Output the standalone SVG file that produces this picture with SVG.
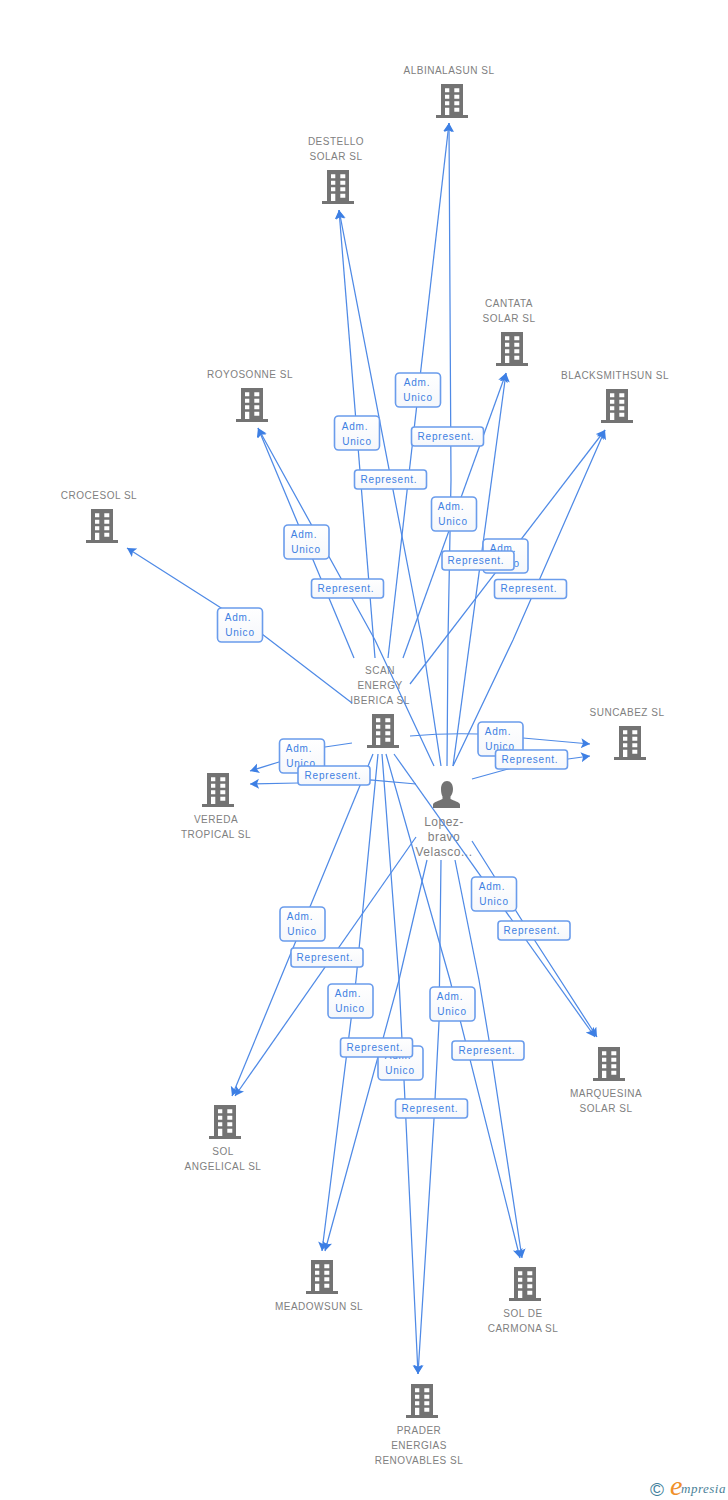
<svg xmlns="http://www.w3.org/2000/svg" width="728" height="1500" viewBox="0 0 728 1500">
<style>
.n{font-family:"Liberation Sans",Arial,sans-serif;font-size:10px;letter-spacing:.5px;fill:#808080;text-anchor:middle}
.p{font-size:12px}
.c{fill:none;stroke:#4f8ae6;stroke-width:1.25;marker-end:url(#a)}
.b{fill:url(#g);stroke:#6a9cec;stroke-width:1.6}
.t{font-family:"Liberation Sans",Arial,sans-serif;font-size:10px;letter-spacing:.8px;fill:#4080e2;text-anchor:middle}
</style>
<defs>
<linearGradient id="g" x1="0" y1="0" x2="0" y2="1"><stop offset="0" stop-color="#ffffff"/><stop offset="1" stop-color="#f5f7fb"/></linearGradient>
<marker id="a" markerUnits="userSpaceOnUse" markerWidth="12" markerHeight="12" refX="9" refY="5" orient="auto"><path d="M0 0L9 5L0 10L2 5Z" fill="#3d7fe4"/></marker>
<g id="bld">
<path fill="#737373" fill-rule="evenodd" d="M-11-17H11V14H16V17H-16V14H-11ZM-7-12.700V-8.700H-2.700V-12.700ZM2.300-12.700V-8.700H7.300V-12.700ZM-7-6.300V-2.300H-2.700V-6.300ZM2.300-6.300V-2.300H7.300V-6.300ZM-7 .3V4.300H-2.700V.3ZM2.300 .3V4.300H7.300V.3ZM-7 6.700V14H-2.700V6.700ZM2.300 6.700V10.700H7.300V6.700Z"/>
</g>
</defs>
<rect width="728" height="1500" fill="#ffffff"/>
<g id="node-albinalasun"><use href="#bld" x="452" y="101"/><text class="n" x="449" y="74">ALBINALASUN SL</text></g>
<g id="node-destello"><use href="#bld" x="338" y="187"/><text class="n" x="336" y="145">DESTELLO</text><text class="n" x="336" y="160">SOLAR SL</text></g>
<g id="node-cantata"><use href="#bld" x="512" y="349"/><text class="n" x="509" y="307">CANTATA</text><text class="n" x="509" y="322">SOLAR SL</text></g>
<g id="node-royosonne"><use href="#bld" x="252" y="405"/><text class="n" x="250" y="378">ROYOSONNE SL</text></g>
<g id="node-blacksmithsun"><use href="#bld" x="617" y="406"/><text class="n" x="615" y="379">BLACKSMITHSUN SL</text></g>
<g id="node-crocesol"><use href="#bld" x="102" y="526"/><text class="n" x="99" y="499">CROCESOL SL</text></g>
<g id="node-suncabez"><use href="#bld" x="630" y="743"/><text class="n" x="627" y="716">SUNCABEZ SL</text></g>
<g id="node-scan"><use href="#bld" x="383" y="731"/><text class="n" x="380" y="674">SCAN</text><text class="n" x="380" y="689">ENERGY</text><text class="n" x="380" y="704">IBERICA SL</text></g>
<g id="node-vereda"><use href="#bld" x="218" y="790"/><text class="n" x="216" y="823">VEREDA</text><text class="n" x="216" y="838">TROPICAL SL</text></g>
<g id="node-person"><path fill="#737373" d="M441 789c0-5 2.500-8 6-8s6 3 6 8c0 3-1 5.500-2.500 7.500v2.500c3 1.500 9 3 9.500 5.500v3.500H433v-3.500c.5-2.500 6.500-4 9.500-5.500v-2.500C441.500 794.500 441 792 441 789Z"/><text class="n p" x="444" y="826">Lopez-</text><text class="n p" x="444" y="841">bravo</text><text class="n p" x="444" y="856">Velasco...</text></g>
<g id="node-marquesina"><use href="#bld" x="609" y="1064"/><text class="n" x="606" y="1097">MARQUESINA</text><text class="n" x="606" y="1112">SOLAR SL</text></g>
<g id="node-sol-angelical"><use href="#bld" x="225" y="1122"/><text class="n" x="223" y="1155">SOL</text><text class="n" x="223" y="1170">ANGELICAL SL</text></g>
<g id="node-meadowsun"><use href="#bld" x="322" y="1277"/><text class="n" x="319" y="1310">MEADOWSUN SL</text></g>
<g id="node-sol-carmona"><use href="#bld" x="525" y="1284"/><text class="n" x="523" y="1317">SOL DE</text><text class="n" x="523" y="1332">CARMONA SL</text></g>
<g id="node-prader"><use href="#bld" x="422" y="1401"/><text class="n" x="419" y="1434">PRADER</text><text class="n" x="419" y="1449">ENERGIAS</text><text class="n" x="419" y="1464">RENOVABLES SL</text></g>
<g id="connectors">
<path class="c" d="M388 658L449 123"/>
<path class="c" d="M375 658L339 210"/>
<path class="c" d="M354 658L258 428"/>
<path class="c" d="M403 658L506 373"/>
<path class="c" d="M410 684L605 430"/>
<path class="c" d="M352 703L262 634L240 620L127 548"/>
<path class="c" d="M410 736Q445 733 478 734L523 738L590 744"/>
<path class="c" d="M352 743L325 747L279 762L250 771"/>
<path class="c" d="M373 754L232 1096"/>
<path class="c" d="M378 754L356 980L322 1251"/>
<path class="c" d="M382 754L399 980L404 1080L418 1374"/>
<path class="c" d="M386 754L450 980L520 1258"/>
<path class="c" d="M394 754L595 1037"/>
<path class="c" d="M447 766L448 640L451 480L449 123"/>
<path class="c" d="M441 766L422 640L339 210"/>
<path class="c" d="M434 766L375 640L258 428"/>
<path class="c" d="M453 766L506 373"/>
<path class="c" d="M453 766L513 640L605 430"/>
<path class="c" d="M472 779L508 769L568 759L590 756"/>
<path class="c" d="M416 784L370 780L298 783L250 784"/>
<path class="c" d="M416 837L235 1096"/>
<path class="c" d="M427 860L399 980L325 1251"/>
<path class="c" d="M441 860L439 1022L434 1119L418 1374"/>
<path class="c" d="M455 860L479 980L489 1040L522 1258"/>
<path class="c" d="M472 841L528 930L597 1037"/>
</g>
<g id="labels">
<g id="adm-1"><rect class="b" x="395.500" y="373" width="45" height="34" rx="4"/><text class="t" x="417" y="386">Adm.</text><text class="t" x="418" y="401">Unico</text></g>
<g id="adm-2"><rect class="b" x="334.500" y="416" width="45" height="34" rx="4"/><text class="t" x="355" y="430">Adm.</text><text class="t" x="357" y="445">Unico</text></g>
<g id="adm-3"><rect class="b" x="284" y="525" width="45" height="34" rx="4"/><text class="t" x="304" y="538">Adm.</text><text class="t" x="306" y="553">Unico</text></g>
<g id="adm-4"><rect class="b" x="431.500" y="497" width="45" height="34" rx="4"/><text class="t" x="451" y="510">Adm.</text><text class="t" x="453" y="525">Unico</text></g>
<g id="adm-5"><rect class="b" x="483" y="539" width="45" height="34" rx="4"/><text class="t" x="503" y="552">Adm.</text><text class="t" x="505" y="567">Unico</text></g>
<g id="adm-6"><rect class="b" x="217.500" y="608" width="45" height="34" rx="4"/><text class="t" x="238" y="621">Adm.</text><text class="t" x="240" y="636">Unico</text></g>
<g id="adm-7"><rect class="b" x="478" y="722" width="45" height="34" rx="4"/><text class="t" x="498" y="735">Adm.</text><text class="t" x="500" y="750">Unico</text></g>
<g id="adm-8"><rect class="b" x="279.500" y="739" width="45" height="34" rx="4"/><text class="t" x="299" y="752">Adm.</text><text class="t" x="301" y="767">Unico</text></g>
<g id="adm-9"><rect class="b" x="471.500" y="877" width="45" height="34" rx="4"/><text class="t" x="492" y="890">Adm.</text><text class="t" x="494" y="905">Unico</text></g>
<g id="adm-10"><rect class="b" x="280" y="907" width="45" height="34" rx="4"/><text class="t" x="300" y="920">Adm.</text><text class="t" x="302" y="935">Unico</text></g>
<g id="adm-11"><rect class="b" x="328" y="984" width="45" height="34" rx="4"/><text class="t" x="348" y="997">Adm.</text><text class="t" x="350" y="1012">Unico</text></g>
<g id="adm-12"><rect class="b" x="430" y="987" width="45" height="34" rx="4"/><text class="t" x="450" y="1000">Adm.</text><text class="t" x="452" y="1015">Unico</text></g>
<g id="adm-13"><rect class="b" x="378" y="1046" width="45" height="34" rx="4"/><text class="t" x="398" y="1059">Adm.</text><text class="t" x="400" y="1074">Unico</text></g>
<g id="rep-1"><rect class="b" x="411.500" y="427" width="72" height="19" rx="3"/><text class="t" x="446" y="440">Represent.</text></g>
<g id="rep-2"><rect class="b" x="354.500" y="470" width="72" height="19" rx="3"/><text class="t" x="389" y="483">Represent.</text></g>
<g id="rep-3"><rect class="b" x="311.500" y="579" width="72" height="19" rx="3"/><text class="t" x="346" y="592">Represent.</text></g>
<g id="rep-4"><rect class="b" x="442" y="551" width="72" height="19" rx="3"/><text class="t" x="476" y="564">Represent.</text></g>
<g id="rep-5"><rect class="b" x="494.500" y="579.500" width="72" height="19" rx="3"/><text class="t" x="529" y="592">Represent.</text></g>
<g id="rep-6"><rect class="b" x="495.500" y="750" width="72" height="19" rx="3"/><text class="t" x="530" y="763">Represent.</text></g>
<g id="rep-7"><rect class="b" x="298" y="766" width="72" height="19" rx="3"/><text class="t" x="333" y="779">Represent.</text></g>
<g id="rep-8"><rect class="b" x="498" y="921" width="72" height="19" rx="3"/><text class="t" x="532" y="934">Represent.</text></g>
<g id="rep-9"><rect class="b" x="291" y="948" width="72" height="19" rx="3"/><text class="t" x="325" y="961">Represent.</text></g>
<g id="rep-10"><rect class="b" x="340.500" y="1038" width="72" height="19" rx="3"/><text class="t" x="375" y="1051">Represent.</text></g>
<g id="rep-11"><rect class="b" x="452" y="1041" width="72" height="19" rx="3"/><text class="t" x="487" y="1054">Represent.</text></g>
<g id="rep-12"><rect class="b" x="395.500" y="1099" width="72" height="19" rx="3"/><text class="t" x="430" y="1112">Represent.</text></g>
</g>
<g id="logo"><text x="650" y="1496" font-family="'Liberation Sans',Arial,sans-serif" font-size="19" fill="#3f7f9c">©</text><text x="670" y="1495" font-family="'Liberation Serif',serif" font-style="italic" font-size="28" fill="#f0902a">e</text><text x="681" y="1493" font-family="'Liberation Serif',serif" font-style="italic" font-size="13" letter-spacing=".5" fill="#4a7f98">mpresia</text></g>
</svg>
